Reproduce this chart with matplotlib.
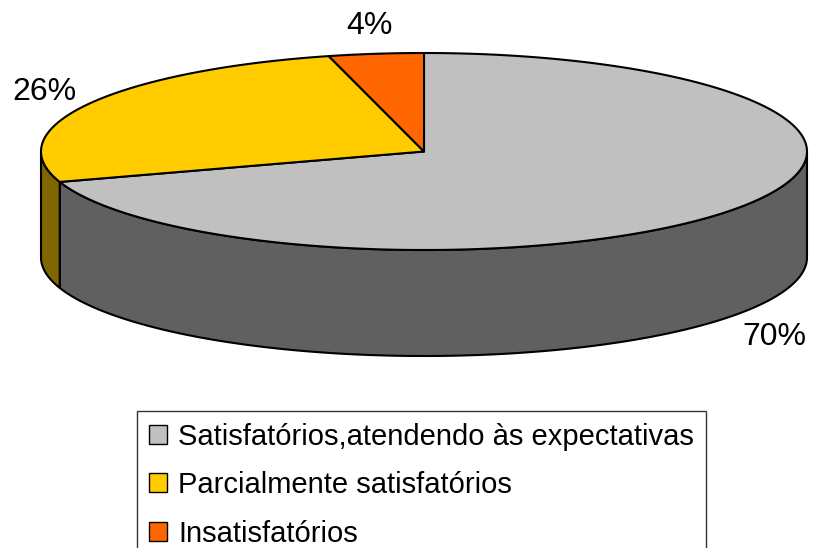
import numpy as np
import matplotlib
matplotlib.use("Agg")
import matplotlib.pyplot as plt
from matplotlib.patches import Polygon, Patch

labels = ["Satisfatórios,atendendo às expectativas",
          "Parcialmente satisfatórios",
          "Insatisfatórios"]
shares = [70, 26, 4]
top_colors = ["#C0C0C0", "#FFCC00", "#FF6600"]
side_colors = ["#606060", "#806600", "#803300"]

plt.rcParams["font.family"] = ["Liberation Sans", "DejaVu Sans"]

# layout of the 3-D pie in pixel units
CX, CY = 424, 151.5
A, B = 383, 98.5
DEPTH = 106
LW = 1.5

fig = plt.figure(figsize=(8.14, 5.48), dpi=100, facecolor="white")
ax = fig.add_axes([0, 0, 1, 1])
ax.set_xlim(0, 814)
ax.set_ylim(548, 0)
ax.axis("off")


def pt(theta, dy=0.0):
    return CX + A * np.cos(theta), CY - B * np.sin(theta) + dy


# slices go clockwise from 12 o'clock
fracs = np.array(shares, dtype=float) / sum(shares)
starts = np.pi / 2 - 2 * np.pi * np.concatenate([[0], np.cumsum(fracs)[:-1]])
ends = starts - 2 * np.pi * fracs

# side walls (front half only: angles between pi and 2pi)
for s, e, col in zip(starts, ends, side_colors):
    lo, hi = e, s
    for shift in (0, 2 * np.pi, -2 * np.pi):
        a0, a1 = max(lo + shift, np.pi), min(hi + shift, 2 * np.pi)
        if a1 > a0:
            th = np.linspace(a0, a1, 200)
            xs, ys = pt(th)
            xb, yb = pt(th[::-1], DEPTH)
            poly = Polygon(np.column_stack([np.r_[xs, xb], np.r_[ys, yb]]),
                           closed=True, facecolor=col, edgecolor="black",
                           linewidth=LW, joinstyle="round", zorder=2)
            ax.add_patch(poly)

# top faces
for s, e, col in zip(starts, ends, top_colors):
    th = np.linspace(s, e, 300)
    xs, ys = pt(th)
    poly = Polygon(np.column_stack([np.r_[CX, xs], np.r_[CY, ys]]),
                   closed=True, facecolor=col, edgecolor="black",
                   linewidth=LW, joinstyle="round", zorder=3)
    ax.add_patch(poly)

# percentage labels
for s, e, v in zip(starts, ends, shares):
    mid = (s + e) / 2
    x = CX + 1.13 * A * np.cos(mid)
    y = CY - 1.32 * B * np.sin(mid)
    if np.sin(mid) < 0:
        y += DEPTH
    ax.text(x, y + 3, f"{v}%", fontsize=23, ha="center", va="center", color="black")

handles = [Patch(facecolor=c, edgecolor="black", linewidth=1.0) for c in top_colors]
leg = fig.legend(handles, labels, loc="upper left",
                 bbox_to_anchor=(137 / 814, 1 - 411 / 548),
                 fontsize=21, frameon=True, fancybox=False, borderpad=0.4,
                 labelspacing=0.7, handlelength=0.62, handleheight=0.62,
                 handletextpad=0.4, borderaxespad=0)
leg.get_frame().set_edgecolor("black")
leg.get_frame().set_linewidth(1.0)

fig.savefig("out.png", dpi=100, facecolor="white")
